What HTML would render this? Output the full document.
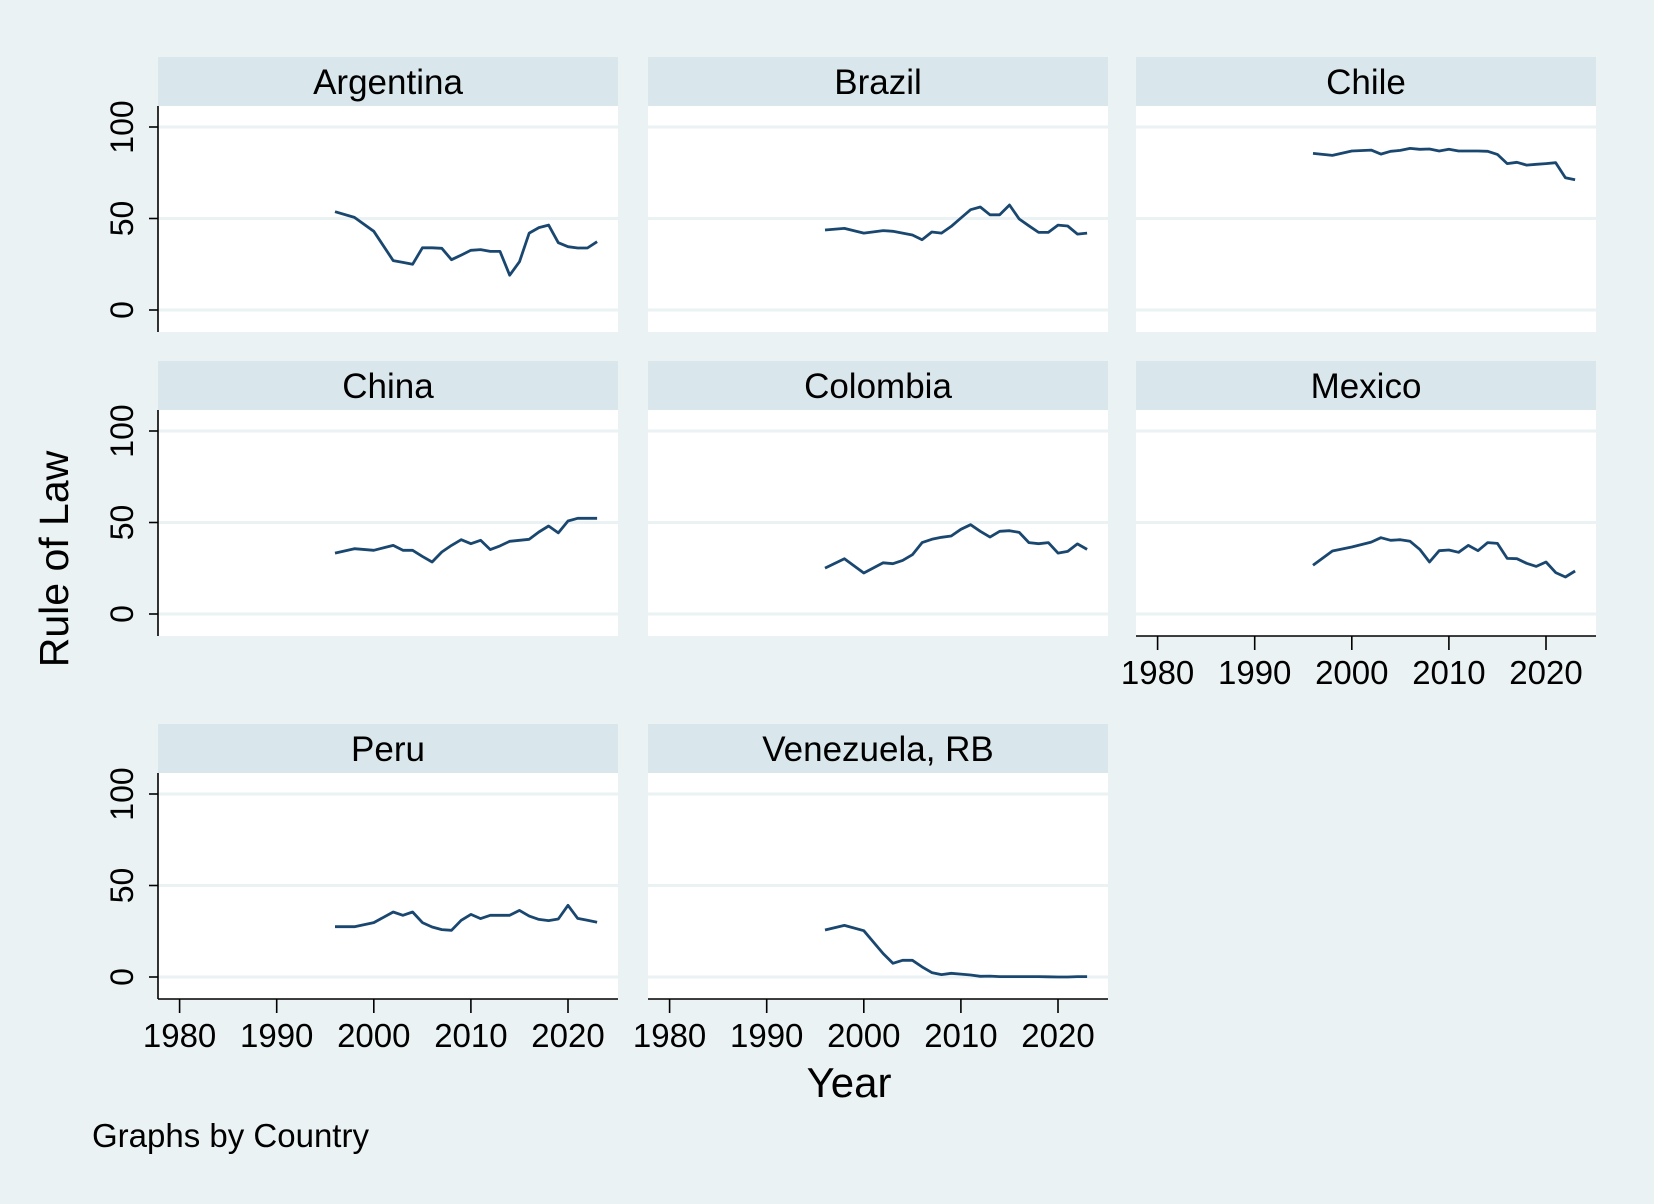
<!DOCTYPE html>
<html><head><meta charset="utf-8"><style>
body{margin:0;background:#eaf2f3;}
svg{display:block;font-family:"Liberation Sans",Arial,sans-serif;}
</style></head><body>
<svg id="chart" width="1654" height="1204" viewBox="0 0 1654 1204" xmlns="http://www.w3.org/2000/svg">
<rect x="0" y="0" width="1654" height="1204" fill="#eaf2f3"/>
<g id="panels"></g>
<text x="54" y="559" font-size="41" text-anchor="middle" dominant-baseline="central" transform="rotate(-90 54 559)">Rule of Law</text>
<text x="849" y="1097" font-size="42" text-anchor="middle">Year</text>
<text x="92" y="1147" font-size="33">Graphs by Country</text>
</svg>
<script>
const years = [1996,1998,2000,2002,2003,2004,2005,2006,2007,2008,2009,2010,2011,2012,2013,2014,2015,2016,2017,2018,2019,2020,2021,2022,2023];
const countries = ["Argentina","Brazil","Chile","China","Colombia","Mexico","Peru","Venezuela, RB"];
const argentina = [53.7,50.6,43,27,26,25,34,34,33.7,27.5,30,32.6,33,32,32,19,26.4,42,45,46.4,36.8,34.6,33.9,33.9,37.3];
const brazil = [43.7,44.6,42,43.4,43,42,41,38.4,42.6,42,45.7,50.3,54.8,56.3,52,52,57.4,49.7,46,42.4,42.4,46.4,45.9,41.5,42];
const chile = [85.6,84.5,86.9,87.4,85.2,86.7,87.2,88.3,87.8,88,86.9,87.8,86.9,86.9,86.9,86.7,85,80,80.7,79.2,79.6,80,80.5,72.3,71.2];
const china = [33.3,35.7,34.8,37.5,34.8,34.8,31.5,28.4,33.9,37.5,40.6,38.4,40.3,35.2,37.2,39.7,40.3,40.8,44.8,48.1,44.3,50.8,52.3,52.3,52.3];
const colombia = [25.1,30.2,22.4,28,27.5,29.3,32.4,39,40.8,41.9,42.6,46.3,48.8,45.2,42,45.2,45.5,44.6,39,38.4,39,33.3,34.2,38.3,35.3];
const mexico = [26.6,34.4,36.6,39.3,41.7,40.3,40.6,39.7,35.3,28.4,34.6,35,33.7,37.5,34.6,39,38.6,30.4,30.2,27.7,26,28.4,22.6,20.2,23.5];
const peru = [27.5,27.5,29.7,35.5,33.7,35.5,29.7,27.3,25.9,25.5,31,34.2,31.9,33.7,33.7,33.7,36.4,33.3,31.5,30.8,31.7,39.2,32,31,29.9];
const venezuela = [25.7,28.2,25.3,12.8,7.5,9.1,9.1,5.5,2.4,1.3,2,1.6,1.1,0.4,0.5,0.2,0.2,0.2,0.2,0.2,0.1,0,0,0.2,0.2];
const seriesList = [argentina,brazil,chile,china,colombia,mexico,peru,venezuela];
const yTicks = [0,50,100];
const xTicks = [1980,1990,2000,2010,2020];

const NS="http://www.w3.org/2000/svg";
const root=document.getElementById('panels');
const colX=[158,648,1136], W=460;
const rowStrip=[57,361,724];
function mk(tag,attrs,parent){const e=document.createElementNS(NS,tag);for(const k in attrs)e.setAttribute(k,attrs[k]);parent.appendChild(e);return e;}
function xScale(left,yr){return left+21.6+(yr-1980)*9.71;}
function yScale(zero,v){return zero-v*1.83;}
const slug=s=>s.toLowerCase().replace(/[^a-z]+/g,'-').replace(/-$/,'');
countries.forEach((name,i)=>{
  const col=i%3,row=Math.floor(i/3);
  const L=colX[col],st=rowStrip[row],pt=st+49,pb=pt+226,zero=pt+204;
  const g=mk('g',{},root);
  
  
  const strip=mk('rect',{x:L,y:st,width:W,height:49,fill:'#d9e6eb'},g);
  
  
  const t=mk('text',{x:L+W/2,y:st+37,'font-size':35,'text-anchor':'middle'},g);
  t.textContent=name;
  
  
  const pa=mk('rect',{x:L,y:pt,width:W,height:226,fill:'#ffffff'},g);
  
  
  yTicks.forEach(v=>{
    const gl=mk('line',{x1:L,x2:L+W,y1:yScale(zero,v),y2:yScale(zero,v),stroke:'#eaf2f3','stroke-width':3},g);
    
    
  });
  const s=seriesList[i];
  const pts=years.map((y,k)=>xScale(L,y).toFixed(1)+','+yScale(zero,s[k]).toFixed(1)).join(' ');
  const pl=mk('polyline',{points:pts,fill:'none',stroke:'#1a476f','stroke-width':2.8,'stroke-linejoin':'round'},g);
  
  
  if(col===0){
    const ax=mk('line',{x1:L,x2:L,y1:pt,y2:pb,stroke:'#000','stroke-width':1.6},g);
    
    
    yTicks.forEach(v=>{
      const yy=yScale(zero,v);
      const tk=mk('line',{x1:L-9,x2:L,y1:yy,y2:yy,stroke:'#000','stroke-width':1.6},g);
      
      
      const tl=mk('text',{x:133,y:yy,'font-size':32,'text-anchor':'middle',transform:`rotate(-90 133 ${yy})`},g);
      tl.textContent=v;
      
      
    });
  }
  if(i>=5){
    const ax=mk('line',{x1:L,x2:L+W,y1:pb,y2:pb,stroke:'#000','stroke-width':1.6},g);
    
    
    xTicks.forEach(v=>{
      const xx=xScale(L,v);
      const tk=mk('line',{x1:xx,x2:xx,y1:pb,y2:pb+14,stroke:'#000','stroke-width':1.6},g);
      
      
      const tl=mk('text',{x:xx,y:pb+48,'font-size':33,'text-anchor':'middle'},g);
      tl.textContent=v;
      
      
    });
  }
});
</script>
</body></html>
